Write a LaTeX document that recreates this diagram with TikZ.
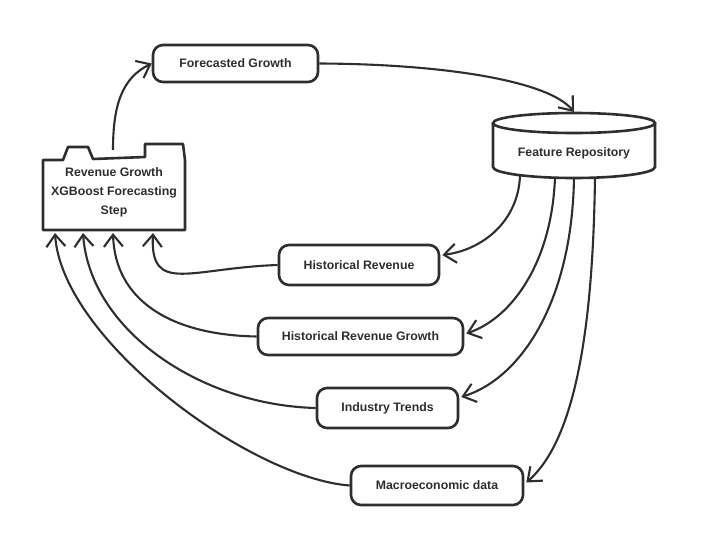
\documentclass[tikz,border=0pt]{standalone}
\usepackage{fontspec}
\setmainfont{Liberation Sans}
\usetikzlibrary{arrows.meta,calc,positioning}
\definecolor{ink}{HTML}{2E2E2E}

\begin{document}
\begin{tikzpicture}[x=1pt,y=-1pt,
    box/.style={draw=ink,line width=2.6pt,rounded corners=10pt,inner sep=0pt,minimum height=38pt},
    txt/.style={text=ink,font=\fontsize{12.3}{19}\selectfont\bfseries,align=center},
    link/.style={draw=ink,line width=2.1pt,-{Straight Barb[length=12pt,width=19pt,line width=2.1pt]}}]
        \useasboundingbox (0,0) rectangle (705,549);

        % Forecasting step (box with two tabs)
        \draw[ink,line width=2.6pt,line join=round] (43,230) -- (43,160) -- (63,160) -- (68,147) -- (88,147) -- (93,159)
            -- (145,157) -- (145,144) -- (183,144) -- (185,160) -- (185,230) -- cycle;
        \node[txt] (rev) at (114,192) {Revenue Growth\\XGBoost Forecasting\\Step};

        % Feature repository (cylinder)
        \draw[ink,line width=2.6pt] (574,123) ellipse [x radius=81,y radius=10];
        \draw[ink,line width=2.6pt] (493,123) -- (493,167) arc [start angle=180,end angle=0,x radius=81,y radius=11] -- (655,123);
        \node[txt] (fr) at (574,153) {Feature Repository};

        % Features
        \node[box,txt,minimum width=165pt,minimum height=37pt] (fg) at (235.5,63.5) {Forecasted Growth};
        \node[box,txt,minimum width=160pt,minimum height=40pt] (hr) at (359,265) {Historical Revenue};
        \node[box,txt,minimum width=205pt,minimum height=37pt] (hrg) at (360.5,336.5) {Historical Revenue Growth};
        \node[box,txt,minimum width=141pt,minimum height=40pt] (it) at (387.5,408) {Industry Trends};
        \node[box,txt,minimum width=172pt,minimum height=39pt] (mac) at (437,485.5) {Macroeconomic data};

        % Connector ends
        \coordinate (revout) at (113,150);
        \coordinate (revin1) at (55,233);
        \coordinate (revin2) at (83,233);
        \coordinate (revin3) at (113,233);
        \coordinate (revin4) at (153,233);
        \coordinate (frtop) at (574,112);
        \coordinate (frout1) at (520,176);
        \coordinate (frout2) at (555,177);
        \coordinate (frout3) at (574,178);
        \coordinate (frout4) at (595,177);

        \draw[link] (revout) .. controls (113,105) and (122,78) .. (fg.west);
        \draw[link] (fg.east) .. controls (440,64) and (548,80) .. (frtop);

        \draw[link] (frout1) .. controls (518,222) and (482,250) .. ($(hr.east)+(2,-10)$);
        \draw[link] (frout2) .. controls (552,262) and (512,318) .. ($(hrg.east)+(2,-3)$);
        \draw[link] (frout3) .. controls (572,300) and (522,378) .. ($(it.east)+(2,-11)$);
        \draw[link] (frout4) .. controls (593,330) and (575,440) .. ($(mac.east)+(2,-3)$);

        \draw[link] (hr.west) .. controls (190,268) and (150,295) .. (revin4);
        \draw[link] (hrg.west) .. controls (170,335) and (115,300) .. (revin3);
        \draw[link] (it.west) .. controls (200,405) and (90,330) .. (revin2);
        \draw[link] (mac.west) .. controls (250,478) and (62,340) .. (revin1);
\end{tikzpicture}
\end{document}
